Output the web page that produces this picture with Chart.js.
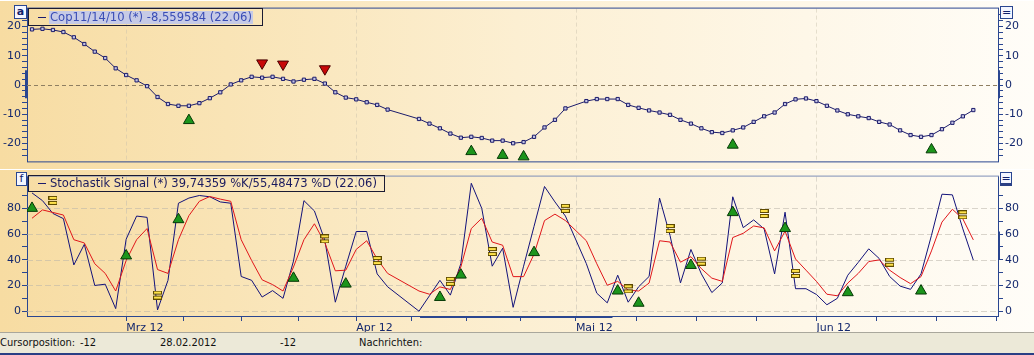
<!DOCTYPE html>
<html><head><meta charset="utf-8">
<script src="https://cdn.jsdelivr.net/npm/chart.js@4.4.1/dist/chart.umd.min.js"></script>
<style>
html,body{margin:0;padding:0;}
body{width:1034px;height:355px;overflow:hidden;position:relative;
 background:linear-gradient(to right,#f7dca2 0%,#f9e4b6 22%,#fcefd2 50%,#fef7e8 78%,#fffdf8 100%);
 font-family:"DejaVu Sans",Verdana,sans-serif;}
canvas{position:absolute;left:0;}
#c1{top:0}
#c2{top:168px}
.sep{position:absolute;left:0;width:1034px;height:1px;background:#ffffff;}
.lg{position:absolute;border:1px solid #1b1b33;box-sizing:border-box;white-space:nowrap;}
.lg .dash{position:absolute;left:9px;width:8px;height:1px;background:#1b1b6b;}
.lg .tx{position:absolute;left:20px;font-size:11px;line-height:13px;}
.box{position:absolute;box-sizing:border-box;border:1px solid #2a4690;background:#f4f6ff;color:#10206a;
 font:bold 11px "DejaVu Sans",sans-serif;text-align:center;line-height:11px;}
#sb{position:absolute;left:0;top:332px;width:1034px;height:23px;box-sizing:border-box;background:#ece9d8;
 border-top:1px solid #a9a79c;border-bottom:2px solid #2a3f85;font:11px "DejaVu Sans Condensed","Liberation Sans",sans-serif;color:#111;}
#sb span{position:absolute;top:0;line-height:20px;white-space:nowrap;}
</style></head>
<body>
<canvas id="c1" width="1034" height="170"></canvas>
<canvas id="c2" width="1034" height="165"></canvas>
<div class="sep" style="top:0"></div>
<div class="sep" style="top:169px"></div>

<div class="box" style="left:14px;top:5px;width:13px;height:14px;">a</div>
<div class="box" style="left:16px;top:172px;width:11px;height:14px;font-weight:normal;">f</div>
<div class="box" style="left:1000px;top:6px;width:13px;height:13px;font-weight:normal;">=</div>
<div class="box" style="left:1000px;top:172px;width:12px;height:14px;font-weight:normal;border-bottom:3px solid #2a3f85;">=</div>

<div class="lg" id="lg1" style="left:28px;top:8px;width:235px;height:18px;">
 <div class="dash" style="top:8px"></div>
 <div class="tx" id="t1" style="top:2px;color:#3a4db5;background:#c6cae6;padding:0 1px;">Cop11/14/10 (*) -8,559584 (22.06)</div>
</div>
<div class="lg" id="lg2" style="left:28px;top:175px;width:357px;height:17px;">
 <div class="dash" style="top:7px"></div>
 <div class="tx" id="t2" style="top:1px;left:21px;color:#1a1a5e;">Stochastik Signal (*) 39,74359 %K/55,48473 %D (22.06)</div>
</div>

<div id="sb">
 <span style="left:0">Cursorposition:</span>
 <span style="left:80px">-12</span>
 <span style="left:160px">28.02.2012</span>
 <span style="left:280px">-12</span>
 <span style="left:359px">Nachrichten:</span>
</div>

<script>
// ---------- DATA ----------
// weekdays 17.02.2012 .. 22.06.2012 (categories); holidays (06.04, 09.04, 01.05) carry no values
const dates = (function(){const o=[];const d=new Date(Date.UTC(2012,1,17));while(o.length<91){const w=d.getUTCDay();if(w!==0&&w!==6)o.push(d.toISOString().slice(0,10));d.setUTCDate(d.getUTCDate()+1);}return o;})();

const coppock = [19.0,19.2,18.8,18.1,16.3,14.0,11.4,9.2,5.7,3.4,
 1.6,-0.4,-4.1,-6.5,-7.1,-7.1,-6.2,-4.5,-2.5,0.2,
 1.6,2.8,2.5,2.8,2.1,1.2,1.8,2.1,0.5,-2.5,
 -4.3,-4.9,-5.9,-6.8,-8.4,null,null,-11.6,-13.2,-14.8,
 -16.6,-18.0,-17.7,-18.1,-19.0,-19.0,-19.9,-19.5,-17.7,-14.5,
 -11.9,-8.0,null,-5.5,-4.8,-4.8,-4.8,-6.8,-7.8,-8.7,
 -9.4,-10.2,-11.9,-13.2,-14.8,-16.1,-16.4,-15.5,-14.5,-12.6,
 -10.7,-9.4,-6.5,-4.9,-4.6,-5.5,-7.1,-8.7,-10.0,-10.7,
 -11.3,-12.6,-13.5,-15.5,-17.1,-17.7,-17.1,-15.1,-12.9,-10.7,-8.56];

const copBuyIdx  = [15,42,45,47,67,86];   // green up triangles
const copSellIdx = [22,24,28];            // red down triangles
const copSignalOffset = 5;                // marker distance from the line (value units)

const stochK = [92,86,76,72,36,52,20,21,2,56,
 74,73,1,24,84,88,90,89,85,84,
 27,24,11,16,10,39,86,78,55,7,
 35,62,62,29,19,null,null,0,12,24,
 12.5,37,99.5,80,35,49,3,35,66,97,
 85,74,null,37,14,6.5,28,7,19,27,
 88,59,22,48,29,14.5,22,89,65,71,
 64,29,77,17.5,17.5,13,5,10,28,38,
 48.5,41,27,19.5,17,29,59,91,90.5,64,39.74];

const stochD = [72.3,78.8,76.8,74.8,55.6,53.1,36.9,29.4,15.7,39.4,
 55.6,64.3,32.4,29.4,55.6,74.3,85.5,89.2,87.2,85.5,
 55.6,39.4,24.4,20.7,15.7,34.4,55.6,68.0,53.1,31.4,
 31.9,48.1,54.8,40.6,29.4,null,null,15.7,13.2,18.9,
 16.9,34.4,64.3,72.3,53.8,51.3,26.9,26.9,44.4,70.5,
 75.5,70.5,null,54.8,36.9,20.2,23.2,16.4,15.7,21.9,
 54.8,53.8,38.1,42.4,33.1,25.7,23.2,57.3,60.6,66.3,
 64.8,46.9,62.3,40.6,31.9,23.2,13.2,12.0,21.9,29.4,
 38.6,39.9,31.9,26.2,21.4,26.9,46.9,69.3,79.3,71.8,55.48];

const stochBuyIdx = [0,9,14,25,30,39,41,48,56,58,63,67,72,78,85];
const stochBuyVal = [80.1,43.1,71.3,25.7,21.2,10.8,28.2,45.7,15.8,6.3,35.7,76.8,64.4,14.5,15.8];
const stochEqIdx  = [2,12,28,33,40,44,51,57,61,64,70,73,82,89];
const stochEqVal  = [86.2,12.5,56.3,39.4,23.2,46.4,80,17.4,64.3,38.9,76,29.4,38.1,75];

// axis ticks
const monthTickIdx = [9,31,52,75];
const monthLabels  = ["Mrz 12","Apr 12","Mai 12","Jun 12"];
const xTickVals = [9,14.5,20,25.5,31,36.25,41.5,46.75,52,57.75,63.5,69.25,75,80.75,86.5,92.25];
const copAxisTicks = [-24,-22,-20,-18,-16,-14,-12,-10,-8,-6,-4,-2,0,2,4,6,8,10,12,14,16,18,20,22,24];
const stochAxisTicks = [0,10,20,30,40,50,60,70,80,90];

// ---------- STYLE ----------
const X_MIN=-0.48, X_MAX=92.36;
const AXIS='#2a4690', LABEL='#14286e';
Chart.defaults.font.family='"DejaVu Sans", Verdana, sans-serif';
Chart.defaults.font.size=11;
Chart.defaults.color=LABEL;

const pts = arr => arr.map((v,i)=>({x:i,y:v}));
const sel = (idx, src, off) => idx.map(i=>({x:i,y:src[i]+off}));
const pair = (idx, vals) => idx.map((i,k)=>({x:i,y:vals[k]}));

// "=" marker image
const eqImg=(function(){const c=document.createElement('canvas');c.width=9;c.height=9;const g=c.getContext('2d');
 g.fillStyle='#5e4a00';g.fillRect(0,0,9,4);g.fillRect(0,5,9,4);
 g.fillStyle='#ffe24a';g.fillRect(1,1,7,2);g.fillRect(1,6,7,2);return c;})();

function yAxis(pos,min,max,ticks,labelEvery){
 return {type:'linear',position:pos,min:min,max:max,
  afterFit:s=>{s.width=(pos==='left')?27:36;},
  afterBuildTicks:s=>{s.ticks=ticks.map(v=>({value:v}));},
  ticks:{autoSkip:false,padding:(pos==='left')?1:2,color:LABEL,
    callback:v=>(v%labelEvery===0)?String(v):''},
  grid:{drawOnChartArea:false,tickLength:5,color:AXIS,tickColor:AXIS},
  border:{color:AXIS,width:1}};
}

const decor={id:'decor',
 beforeDatasetsDraw(chart,args,o){
  const {ctx,chartArea:a,scales}=chart;ctx.save();ctx.lineWidth=1;
  ctx.setLineDash(o.vDash);ctx.strokeStyle=o.vColor;
  monthTickIdx.forEach(i=>{const x=Math.round(scales.x.getPixelForValue(i))+0.5;ctx.beginPath();ctx.moveTo(x,a.top);ctx.lineTo(x,a.bottom);ctx.stroke();});
  ctx.setLineDash(o.hDash);ctx.strokeStyle=o.hColor;
  o.hVals.forEach(v=>{const y=Math.round(scales.y.getPixelForValue(v))+0.5;ctx.beginPath();ctx.moveTo(a.left,y);ctx.lineTo(a.right,y);ctx.stroke();});
  ctx.restore();
 },
 afterDraw(chart,args,o){
  const {ctx,chartArea:a,scales}=chart;ctx.save();ctx.strokeStyle=AXIS;ctx.lineWidth=1;ctx.setLineDash([]);
  const hl=(y,c)=>{ctx.strokeStyle=c||AXIS;ctx.beginPath();ctx.moveTo(a.left,y);ctx.lineTo(a.right+1,y);ctx.stroke();};
  hl(a.top-0.5,o.topColor);
  if(o.bottomLine) hl(a.bottom+0.5);
  // visible-range indicator bars
  ctx.strokeStyle=AXIS;ctx.lineWidth=2;
  (o.yBars||[]).forEach(b=>{const y1=scales.y.getPixelForValue(b.from),y2=scales.y.getPixelForValue(b.to);
    const x=b.side==='left'?a.left-1:a.right+1;ctx.beginPath();ctx.moveTo(x,y1);ctx.lineTo(x,y2);ctx.stroke();});
  (o.xBars||[]).forEach(b=>{const x1=scales.x.getPixelForValue(b.from),x2=scales.x.getPixelForValue(b.to);
    ctx.beginPath();ctx.moveTo(x1,a.bottom+1);ctx.lineTo(x2,a.bottom+1);ctx.stroke();});
  ctx.restore();
 }};

// ---------- TOP PANEL: Coppock ----------
new Chart(document.getElementById('c1'),{
 type:'line',
 data:{labels:dates,datasets:[
  {data:sel(copSellIdx,coppock,copSignalOffset),showLine:false,pointStyle:'triangle',rotation:180,pointRadius:6.3,
   pointBackgroundColor:'#c80808',pointBorderColor:'#4a0000',pointBorderWidth:1,order:0},
  {data:sel(copBuyIdx,coppock,-copSignalOffset),showLine:false,pointStyle:'triangle',pointRadius:6.3,
   pointBackgroundColor:'#1c951c',pointBorderColor:'#063806',pointBorderWidth:1,order:0},
  {data:pts(coppock),spanGaps:true,borderColor:'#1b1b6b',borderWidth:1,tension:0,pointStyle:'rect',pointRadius:2.3,
   pointBackgroundColor:'#c4c4e4',pointBorderColor:'#1b1b6b',pointBorderWidth:1,order:1}
 ]},
 options:{responsive:false,animation:false,devicePixelRatio:1,
  layout:{padding:{top:5,bottom:2,left:0,right:0}},
  plugins:{legend:{display:false},tooltip:{enabled:false},
   decor:{vDash:[4,3],vColor:'rgba(200,190,170,0.45)',hDash:[4,3],hColor:'#8f7f62',hVals:[0],bottomLine:true,
     yBars:[{side:'left',from:5,to:-4.5},{side:'right',from:5,to:-4.5}]}},
  scales:{
   x:{type:'linear',min:X_MIN,max:X_MAX,display:false},
   y:yAxis('left',-26.1,26.1,copAxisTicks,10),
   y2:yAxis('right',-26.1,26.1,copAxisTicks,10)
  }},
 plugins:[decor]
});

// ---------- BOTTOM PANEL: Stochastik ----------
new Chart(document.getElementById('c2'),{
 type:'line',
 data:{labels:dates,datasets:[
  {data:pair(stochBuyIdx,stochBuyVal),showLine:false,pointStyle:'triangle',pointRadius:6.3,
   pointBackgroundColor:'#1c951c',pointBorderColor:'#063806',pointBorderWidth:1,order:0},
  {data:pair(stochEqIdx,stochEqVal),showLine:false,pointStyle:eqImg,pointRadius:5,order:0},
  {data:pts(stochD),spanGaps:true,borderColor:'#e0161a',borderWidth:1,tension:0,pointRadius:0,order:1},
  {data:pts(stochK),spanGaps:true,borderColor:'#12127a',borderWidth:1,tension:0,pointRadius:0,order:2}
 ]},
 options:{responsive:false,animation:false,devicePixelRatio:1,
  layout:{padding:{top:3,bottom:0,left:0,right:0}},
  plugins:{legend:{display:false},tooltip:{enabled:false},
   decor:{vDash:[5,3],vColor:'rgba(190,185,175,0.5)',hDash:[6,3],hColor:'rgba(185,180,170,0.55)',hVals:[0,20,40,60,80],
     topColor:'#7f8fb8',bottomLine:false,
     yBars:[{side:'right',from:62,to:40}],xBars:[{from:37.1,to:55.5}]}},
  scales:{
   x:{type:'linear',position:'bottom',min:X_MIN,max:X_MAX,
    afterFit:s=>{s.height=17;},
    afterBuildTicks:s=>{s.ticks=xTickVals.map(v=>({value:v}));},
    ticks:{autoSkip:false,maxRotation:0,align:'start',padding:1,color:LABEL,
      callback:v=>{const k=monthTickIdx.indexOf(v);return k>=0?monthLabels[k]:'';}},
    grid:{drawOnChartArea:false,tickLength:5,color:AXIS,tickColor:AXIS},
    border:{color:AXIS,width:1}},
   y:yAxis('left',-3.74,104.7,stochAxisTicks,20),
   y2:yAxis('right',-3.74,104.7,stochAxisTicks,20)
  }},
 plugins:[decor]
});

// fit legend texts to the widths in the reference
function fit(id,target){const el=document.getElementById(id);const g=document.createElement('canvas').getContext('2d');
 g.font='11px "DejaVu Sans"';const w=g.measureText(el.textContent).width;el.style.fontSize=(11*target/w).toFixed(2)+'px';}
fit('t1',202);fit('t2',327);
</script>
</body></html>
